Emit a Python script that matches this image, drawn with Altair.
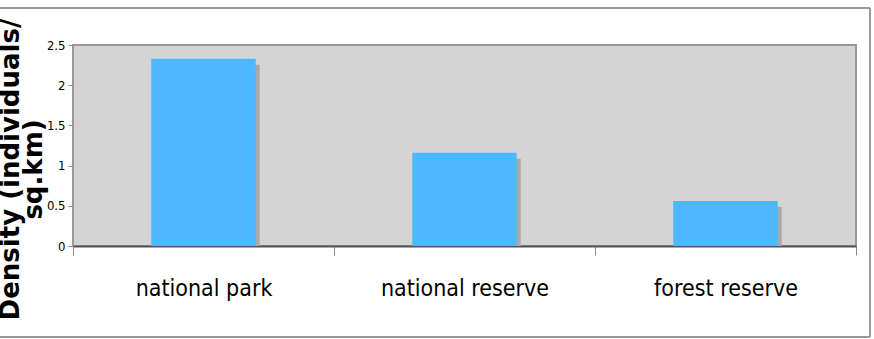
import altair as alt
import pandas as pd

categories = ["national park", "national reserve", "forest reserve"]
density = [2.33, 1.16, 0.56]

df = pd.DataFrame({"area": categories, "density": density})

FONT = "Liberation Sans Narrow, DejaVu Sans Condensed, sans-serif"

x = alt.X(
    "area:N",
    sort=categories,
    scale=alt.Scale(paddingInner=0, paddingOuter=0),
    axis=alt.Axis(
        title=None,
        labelAngle=0,
        labelFont=FONT,
        labelFontSize=23,
        labelColor="#000000",
        labelPadding=22,
        tickBand="extent",
        tickSize=9,
        tickColor="#888888",
        domainColor="#555555",
        domainWidth=2,
    ),
)
y = alt.Y(
    "density:Q",
    scale=alt.Scale(domain=[0, 2.5]),
    axis=alt.Axis(
        values=[0, 0.5, 1, 1.5, 2, 2.5],
        format="~g",
        labelFont=FONT,
        labelFontSize=13,
        labelColor="#000000",
        labelPadding=3,
        tickSize=5,
        tickColor="#888888",
        domainColor="#999999",
        domainWidth=1,
        grid=False,
        title=["Density (individuals/", "sq.km)"],
        titleFont="DejaVu Sans",
        titleFontWeight="bold",
        titleFontSize=26,
        titleColor="#000000",
        titleAngle=-90,
        titleX=-63,
        titleY=124,
        titleAlign="center",
        titleBaseline="middle",
        titleLineHeight=23,
    ),
)

shadow = alt.Chart(df).mark_bar(
    color="#a9a9a9", width=alt.RelativeBandSize(0.4), xOffset=4, yOffset=6, clip=True
).encode(x=x, y=y)

bars = alt.Chart(df).mark_bar(
    color="#4db8ff", width=alt.RelativeBandSize(0.4)
).encode(x=x, y=y)

frame_top = alt.Chart(df).mark_rule(color="#999999", strokeWidth=2).encode(
    x=alt.value(-80), x2=alt.value(797), y=alt.value(-37)
)
frame_right = alt.Chart(df).mark_rule(color="#999999", strokeWidth=1.5).encode(
    x=alt.value(797), y=alt.value(-37), y2=alt.value(292)
)
frame_bottom = alt.Chart(df).mark_rule(color="#999999", strokeWidth=2).encode(
    x=alt.value(-80), x2=alt.value(797), y=alt.value(292)
)

chart = (
    alt.layer(shadow, bars, frame_top, frame_right, frame_bottom)
    .properties(
        width=783,
        height=201,
        background="#ffffff",
        padding={"left": 73, "top": 45, "right": 18, "bottom": 93},
        autosize=alt.AutoSizeParams(type="none"),
    )
    .configure_view(fill="#d4d4d4", stroke="#999999", strokeWidth=2)
)

chart.save("out.html", embed_options={"renderer": "svg", "actions": False})
